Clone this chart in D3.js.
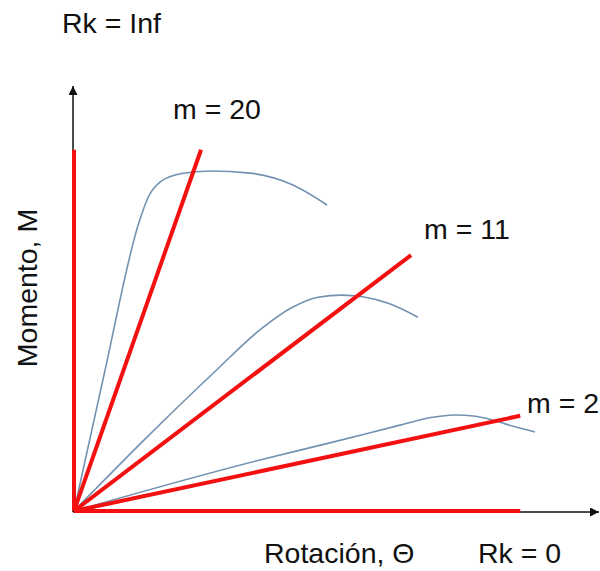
<!DOCTYPE html>
<html>
<head>
<meta charset="utf-8">
<script src="https://cdn.jsdelivr.net/npm/d3@7"></script>
<style>
  html, body { margin: 0; padding: 0; background: #fff; }
  svg { display: block; }
  text { font-family: "Liberation Sans", Arial, Helvetica, sans-serif; fill: #111; }
</style>
</head>
<body>
<svg id="chart" width="600" height="571"></svg>
<script>
// ---- data (rotation θ, moment M in arbitrary units 0..100) ----
const stiffnessLabels = ["Rk = Inf", "m = 20", "m = 11", "m = 2", "Rk = 0"];
const stiffnessEndTheta = [0, 24.2, 64.2, 85.0, 85.0];
const stiffnessEndM     = [85.0, 85.0, 60.2, 22.4, 0];

const curve1Theta = [0, 5.8, 12.4, 14.2, 16.5, 20.5, 26.0, 33.5, 41.7, 48.2];
const curve1M     = [0, 32.5, 68.0, 74.0, 77.5, 79.4, 80.0, 79.5, 76.7, 72.0];

const curve2Theta = [0, 14.0, 27.0, 35.4, 41.7, 46.5, 51.0, 55.0, 60.0, 65.5];
const curve2M     = [0, 17.5, 33.0, 42.6, 48.0, 50.3, 50.8, 50.4, 48.8, 45.6];

const curve3Theta = [0, 35.4, 49.3, 62.1, 68.0, 72.5, 76.5, 80.0, 84.0, 87.8];
const curve3M     = [0, 12.0, 16.2, 20.2, 22.0, 22.6, 22.3, 21.3, 19.8, 18.6];

const xAxisTitle = "Rotación, Θ";
const yAxisTitle = "Momento, M";

// ---- scales ----
const x = d3.scaleLinear().domain([0, 100]).range([74, 599]);
const y = d3.scaleLinear().domain([0, 100]).range([511, 86]);

const svg = d3.select("#chart");
const defs = svg.append("defs");
defs.append("marker")
  .attr("id", "arrow")
  .attr("viewBox", "0 0 10 10")
  .attr("refX", 10).attr("refY", 5)
  .attr("markerWidth", 10).attr("markerHeight", 9)
  .attr("markerUnits", "userSpaceOnUse")
  .attr("orient", "auto")
  .append("path").attr("d", "M0,0 L10,5 L0,10 Z").attr("fill", "#111");

// axes
svg.append("line")
  .attr("x1", x(0) - 1).attr("y1", y(0) + 1)
  .attr("x2", x(0) - 1).attr("y2", y(100))
  .attr("stroke", "#111").attr("stroke-width", 1.5)
  .attr("marker-end", "url(#arrow)");
svg.append("line")
  .attr("x1", x(0) - 1).attr("y1", y(0) + 1)
  .attr("x2", x(100)).attr("y2", y(0) + 1)
  .attr("stroke", "#111").attr("stroke-width", 1.5)
  .attr("marker-end", "url(#arrow)");

// blue moment-rotation curves
const line = d3.line().x(d => x(d[0])).y(d => y(d[1])).curve(d3.curveMonotoneX);
[[curve1Theta, curve1M], [curve2Theta, curve2M], [curve3Theta, curve3M]].forEach(([t, m]) => {
  svg.append("path")
    .datum(t.map((v, i) => [v, m[i]]))
    .attr("d", line)
    .attr("fill", "none")
    .attr("stroke", "#7391b0")
    .attr("stroke-width", 1.6);
});

// red stiffness lines
stiffnessEndTheta.forEach((t, i) => {
  svg.append("line")
    .attr("x1", x(0)).attr("y1", y(0))
    .attr("x2", x(t)).attr("y2", y(stiffnessEndM[i]))
    .attr("stroke", "#f21010")
    .attr("stroke-width", 4)
    .attr("stroke-linecap", "butt");
});

// labels
const fs = 28.5;
const labelPos = [[62, 33], [173, 119], [424, 239], [527, 413], [478, 563]];
stiffnessLabels.forEach((lab, i) => {
  svg.append("text")
    .attr("x", labelPos[i][0]).attr("y", labelPos[i][1])
    .attr("font-size", fs)
    .text(lab);
});
svg.append("text")
  .attr("x", 264).attr("y", 563)
  .attr("font-size", fs)
  .text(xAxisTitle);
svg.append("text")
  .attr("transform", "translate(37,288) rotate(-90)")
  .attr("text-anchor", "middle")
  .attr("font-size", fs)
  .text(yAxisTitle);
</script>
</body>
</html>
